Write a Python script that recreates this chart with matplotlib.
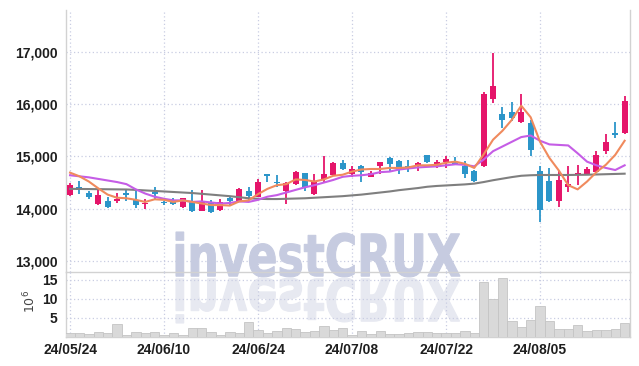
import matplotlib
matplotlib.use('Agg')
import matplotlib.pyplot as plt
from matplotlib.patches import PathPatch
from matplotlib.textpath import TextPath
from matplotlib.font_manager import FontProperties
from matplotlib.transforms import Affine2D

dates = ["24/05/24", "24/05/27", "24/05/28", "24/05/29", "24/05/30", "24/05/31",
         "24/06/03", "24/06/04", "24/06/05", "24/06/07", "24/06/10", "24/06/11",
         "24/06/12", "24/06/13", "24/06/14", "24/06/17", "24/06/18", "24/06/19",
         "24/06/20", "24/06/21", "24/06/24", "24/06/25", "24/06/26", "24/06/27",
         "24/06/28", "24/07/01", "24/07/02", "24/07/03", "24/07/04", "24/07/05",
         "24/07/08", "24/07/09", "24/07/10", "24/07/11", "24/07/12", "24/07/15",
         "24/07/16", "24/07/17", "24/07/18", "24/07/19", "24/07/22", "24/07/23",
         "24/07/24", "24/07/25", "24/07/26", "24/07/29", "24/07/30", "24/07/31",
         "24/08/01", "24/08/02", "24/08/05", "24/08/06", "24/08/07", "24/08/08",
         "24/08/09", "24/08/12", "24/08/13", "24/08/14", "24/08/16", "24/08/19"]

opens = [14260, 14420, 14300, 14090, 14150, 14150, 14300, 14170, 14090, 14310,
         14120, 14140, 14030, 14120, 13960, 14120, 13980, 14210, 14150, 14330,
         14230, 14650, 14520, 14330, 14470, 14680, 14280, 14560, 14650, 14870,
         14660, 14820, 14610, 14810, 14970, 14910, 14820, 14840, 15020, 14810,
         14890, 14870, 14820, 14720, 14810, 16100, 15810, 15840, 15650, 15640,
         14720, 14530, 14150, 14410, 14650, 14650, 14710, 15110, 15440, 15440]
highs = [14490, 14530, 14330, 14360, 14230, 14300, 14380, 14330, 14180, 14420,
         14150, 14200, 14210, 14360, 14360, 14170, 14180, 14230, 14390, 14420,
         14560, 14670, 14650, 14510, 14720, 14690, 14670, 15000, 14900, 14930,
         14810, 14840, 14730, 14900, 14980, 14930, 14930, 14900, 15020, 14930,
         15000, 14980, 14920, 14740, 16240, 16980, 15940, 16050, 16190, 15700,
         14810, 14770, 14720, 14810, 14830, 14800, 15110, 15430, 15660, 16150]
lows = [14250, 14280, 14190, 14070, 14010, 14100, 14140, 14010, 13990, 14190,
        14080, 14070, 14020, 13940, 13950, 13920, 13960, 14070, 14140, 14170,
        14220, 14520, 14410, 14090, 14450, 14330, 14270, 14520, 14640, 14740,
        14610, 14520, 14600, 14660, 14720, 14660, 14710, 14720, 14870, 14780,
        14780, 14840, 14580, 14510, 14790, 16020, 15540, 15670, 15630, 15000,
        13750, 14120, 14030, 14320, 14460, 14640, 14700, 15040, 15360, 15430]
closes = [14450, 14350, 14230, 14260, 14040, 14190, 14260, 14080, 14100, 14290,
          14100, 14090, 14200, 13960, 14140, 13940, 14120, 14150, 14370, 14240,
          14510, 14630, 14490, 14490, 14700, 14420, 14510, 14670, 14870, 14760,
          14760, 14700, 14690, 14890, 14850, 14760, 14780, 14880, 14900, 14890,
          14960, 14860, 14670, 14530, 16200, 16350, 15690, 15740, 15850, 15120,
          13980, 14150, 14550, 14470, 14680, 14760, 15020, 15270, 15410, 16060]

ma5 = [14690, 14620, 14520, 14390, 14270, 14210, 14200, 14170, 14130, 14180,
       14170, 14130, 14160, 14130, 14100, 14070, 14070, 14060, 14140, 14160,
       14280, 14380, 14450, 14470, 14560, 14550, 14520, 14560, 14630, 14650,
       14710, 14750, 14760, 14760, 14780, 14780, 14790, 14830, 14830, 14840,
       14880, 14900, 14860, 14780, 15040, 15320, 15490, 15700, 15970, 15750,
       15280, 14970, 14730, 14450, 14370, 14520, 14700, 14840, 15030, 15300]
ma10 = [14640, 14620, 14600, 14570, 14540, 14510, 14470, 14370, 14290, 14230,
        14190, 14160, 14160, 14130, 14140, 14120, 14100, 14110, 14140, 14130,
        14170, 14230, 14260, 14310, 14360, 14410, 14450, 14500, 14550, 14610,
        14630, 14640, 14660, 14700, 14710, 14750, 14770, 14790, 14800, 14810,
        14830, 14850, 14840, 14810, 14940, 15100, 15190, 15280, 15370, 15400,
        15300, 15230, 15220, 15210, 15060, 14900, 14830, 14780, 14740, 14830]
ma60 = [14380, 14378, 14376, 14374, 14372, 14370, 14368, 14360, 14350, 14340,
        14330, 14320, 14310, 14300, 14285, 14270, 14255, 14240, 14220, 14200,
        14190, 14185, 14185, 14190, 14195, 14200, 14210, 14220, 14230, 14240,
        14255, 14270, 14290, 14310, 14330, 14355, 14375, 14395, 14420, 14435,
        14445, 14455, 14465, 14480, 14510, 14545, 14575, 14605, 14630, 14640,
        14645, 14645, 14645, 14645, 14648, 14650, 14655, 14660, 14665, 14670]

volume = [1.1, 1.1, 0.8, 1.4, 1.1, 3.4, 0.6, 1.35, 1.1, 1.35,
          0.6, 1.1, 0.6, 2.4, 2.4, 1.35, 0.5, 1.35, 1.1, 3.95,
          1.9, 1.1, 1.7, 2.4, 2.1, 1.35, 1.6, 2.9, 1.9, 2.4,
          0.65, 1.6, 0.8, 1.6, 0.8, 0.8, 1.1, 1.35, 1.35, 1.1,
          1.1, 1.1, 1.6, 1.1, 14.5, 10.1, 15.4, 4.1, 2.65, 4.55,
          8.2, 4.1, 2.1, 2.1, 3.2, 1.6, 1.9, 1.9, 2.1, 3.7]

price_ticks = [13000, 14000, 15000, 16000, 17000]
price_labels = ["13,000", "14,000", "15,000", "16,000", "17,000"]
vol_ticks = [5, 10, 15]
date_tick_step = 10

UP = "#e5156a"
DOWN = "#2b95c9"
GRID = "#c9cde2"
SPINE = "#d2d2d2"
TICKFONT = FontProperties(family=['Liberation Sans', 'DejaVu Sans'],
                          weight='bold', size=10)

W, H = 639, 366
fig = plt.figure(figsize=(W / 100, H / 100), dpi=100)
ax = fig.add_axes([66 / W, 1 - 272 / H, 564 / W, 262 / H])
axv = fig.add_axes([66 / W, 1 - 337 / H, 564 / W, 65 / H], sharex=ax)
axv.patch.set_alpha(0)

x = list(range(len(closes)))
colors = [UP if c >= o else DOWN for o, c in zip(opens, closes)]
bottoms = [min(o, c) for o, c in zip(opens, closes)]
heights = [max(abs(c - o), 28) for o, c in zip(opens, closes)]

ax.vlines(x, lows, highs, colors=colors, lw=1.3, zorder=3)
ax.bar(x, heights, bottom=bottoms, width=0.64, color=colors, zorder=4)
ax.plot(x, ma60, color="#7f7f7f", lw=1.5, zorder=5)
ax.plot(x, ma10, color="#c55de6", lw=1.5, zorder=5)
ax.plot(x, ma5, color="#f08a5d", lw=1.5, zorder=5)

axv.bar(x, volume, width=1.0, color="#d9d9d9", edgecolor="#c4c4c4", lw=0.6, zorder=3)

ax.set_xlim(-0.43, 59.57)
ax.set_ylim(12790, 17800)
axv.set_ylim(0, 17.1)

ax.set_yticks(price_ticks)
ax.set_yticklabels(price_labels)
axv.set_yticks(vol_ticks)
tick_pos = x[::date_tick_step]
axv.set_xticks(tick_pos)
axv.set_xticklabels([dates[i] for i in tick_pos])
plt.setp(ax.get_xticklabels(), visible=False)

for a in (ax, axv):
    a.grid(True, color=GRID, linestyle=(0, (1, 2)), lw=0.9)
    a.set_axisbelow(True)
    a.tick_params(length=0, colors="#1e1e1e", pad=6)
    for lab in a.get_xticklabels() + a.get_yticklabels():
        lab.set_fontproperties(TICKFONT)
    a.spines['top'].set_visible(False)
    for s in ('left', 'right', 'bottom'):
        a.spines[s].set_color(SPINE)
        a.spines[s].set_linewidth(1.0)
axv.tick_params(axis='x', pad=4)

fig.text(30 / W, 1 - 301 / H, r"$10^6$", rotation=90, fontsize=9,
         color="#444444", ha='center', va='center')

# watermark with reflection
wm_font = FontProperties(family='DejaVu Sans', weight='bold')
tp = TextPath((0, 0), "investCRUX", size=50, prop=wm_font)
bb = tp.get_extents()
x0, x1 = 176, 460
y_base, y_top = H - 277, H - 232
sx = (x1 - x0) / bb.width
sy = (y_top - y_base) / bb.height
t_up = Affine2D().translate(-bb.x0, -bb.y0).scale(sx, sy).translate(x0, y_base)
t_dn = Affine2D().translate(-bb.x0, -bb.y0).scale(sx, -sy).translate(x0, y_base - 1)
ax.add_patch(PathPatch(tp, transform=t_up, facecolor="#c6cbe0", edgecolor="#c6cbe0",
                       lw=0.8, clip_on=False, zorder=1))
ax.add_patch(PathPatch(tp, transform=t_dn, facecolor="#e7e9f1", edgecolor="#e7e9f1",
                       lw=0.8, clip_on=False, zorder=1))

fig.savefig("out.png", dpi=100)
